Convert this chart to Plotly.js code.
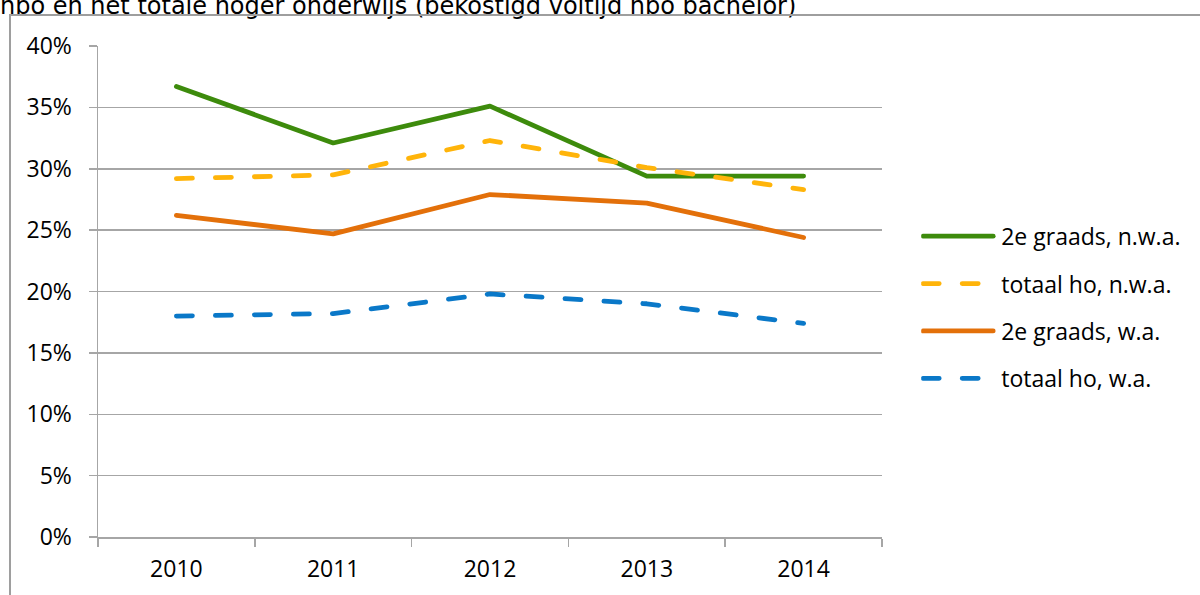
<!DOCTYPE html>
<html>
<head>
<meta charset="utf-8">
<script src="https://cdn.plot.ly/plotly-3.0.1.min.js"></script>
<style>
  html, body { margin: 0; padding: 0; background: #fff; overflow: hidden; }
  #wrap { position: relative; width: 1200px; height: 595px; }
  #chart { width: 1200px; height: 595px; }
  #frame { position: absolute; left: 9px; top: 14px; width: 1300px; height: 700px;
           border-left: 2px solid #9e9e9e; border-top: 2px solid #9e9e9e; pointer-events: none; }
  .scatterlayer path.js-line, .legend path.js-line { stroke-linecap: round; stroke-linejoin: round; }
</style>
</head>
<body>
<div id="wrap">
  <div id="chart"></div>
  <div id="frame"></div>
</div>
<script>
const titleText = "hbo en het totale hoger onderwijs (bekostigd voltijd hbo bachelor)";
const years = ["2010", "2011", "2012", "2013", "2014"];
const graads2NWA = [0.367, 0.321, 0.351, 0.294, 0.294];
const totaalNWA  = [0.292, 0.295, 0.323, 0.301, 0.283];
const graads2WA  = [0.262, 0.247, 0.279, 0.272, 0.244];
const totaalWA   = [0.180, 0.182, 0.198, 0.190, 0.174];
const seriesNames = ["2e graads, n.w.a.", "totaal ho, n.w.a.", "2e graads, w.a.", "totaal ho, w.a."];
const yTickVals = [0, 0.05, 0.10, 0.15, 0.20, 0.25, 0.30, 0.35, 0.40];

const font = "Open Sans, sans-serif";
const dashed = "16px,23px";
function tr(y, name, color, dash, g) {
  return { x: years, y: y, name: name, type: "scatter", mode: "lines",
           legendgroup: g, line: { color: color, width: 4.8, dash: dash } };
}
const data = [
  tr(graads2NWA, seriesNames[0], "#3d8b0c", "solid", "a"),
  tr(totaalNWA,  seriesNames[1], "#ffb40a", dashed,  "b"),
  tr(graads2WA,  seriesNames[2], "#e3700a", "solid", "c"),
  tr(totaalWA,   seriesNames[3], "#0a78c8", dashed,  "d")
];
const grid = "#a6a6a6";
const layout = {
  width: 1200, height: 595,
  margin: { l: 98, r: 318, t: 46, b: 58 },
  paper_bgcolor: "#fff", plot_bgcolor: "#fff",
  font: { family: font, size: 23, color: "#000" },
  title: { text: titleText, font: { family: "DejaVu Sans, Verdana, sans-serif", size: 24, color: "#000" },
           x: 0, xref: "container", xanchor: "left", y: 0.99, yref: "container", yanchor: "middle" },
  showlegend: true,
  legend: { x: 1.05, xanchor: "left", y: 0.467, yanchor: "middle", font: { family: font, size: 23, color: "#000" },
            tracegroupgap: 14.5, itemwidth: 70, bgcolor: "rgba(0,0,0,0)" },
  xaxis: { type: "category", range: [-0.5, 4.5], showgrid: false, zeroline: false,
           showline: true, linecolor: grid, linewidth: 1.5,
           ticks: "outside", tickson: "boundaries", ticklen: 8, tickcolor: grid, tickwidth: 1.5,
           ticklabelstandoff: 11,
           tickfont: { family: font, size: 23 }, fixedrange: true },
  yaxis: { range: [0, 0.4], tickvals: yTickVals, tickformat: ".0%", showgrid: true, gridcolor: grid, gridwidth: 1.5,
           zeroline: false, showline: true, linecolor: grid, linewidth: 1.5,
           ticks: "outside", ticklen: 8, tickcolor: grid, tickwidth: 1.5, ticklabelstandoff: 12,
           tickfont: { family: font, size: 23 }, fixedrange: true },
  hovermode: false
};
Plotly.newPlot("chart", data, layout, { staticPlot: true, displayModeBar: false }).then(function () {
  document.querySelectorAll(".legend .legendlines path").forEach(function (p) {
    p.setAttribute("d", "M2,0h70");
  });
});
</script>
</body>
</html>
